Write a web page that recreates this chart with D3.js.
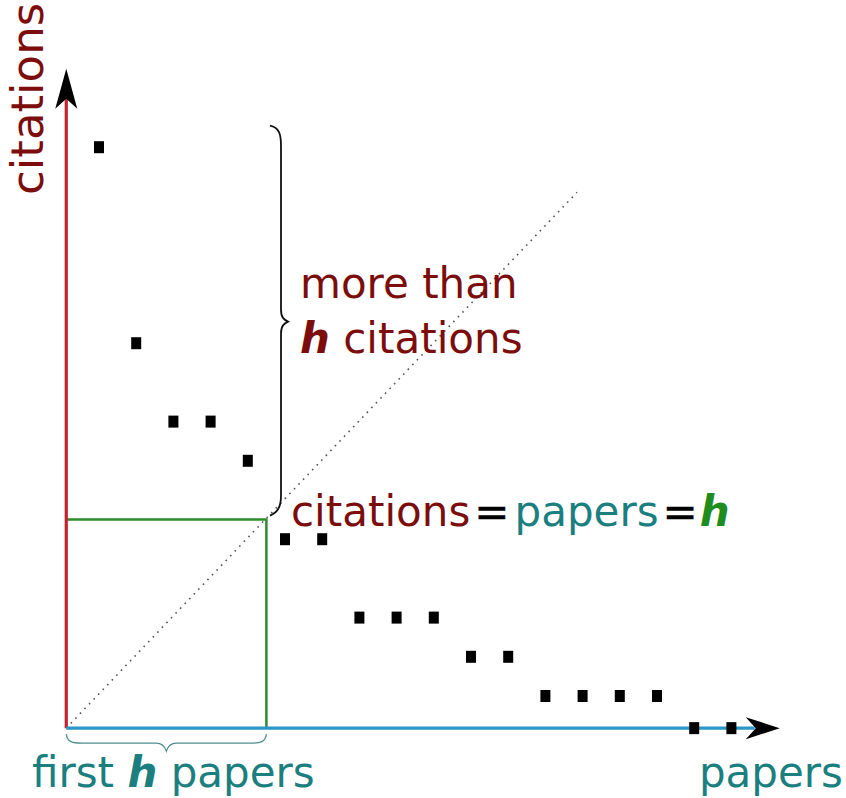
<!DOCTYPE html>
<html><head><meta charset="utf-8">
<script src="https://cdn.jsdelivr.net/npm/d3@7"></script>
<style>
html,body{margin:0;padding:0;background:#fff;}
svg{display:block;font-family:"DejaVu Sans",sans-serif;}
</style></head>
<body>
<svg id="chart" width="846" height="798"></svg>
<script>
// paper ranks (sorted by citations) and citation counts
const papers = [1,2,3,4,5,6,7,8,9,10,11,12,13,14,15,16,17,18];
const citations = [15,10,8,8,7,5,5,3,3,3,2,2,1,1,1,1,0.18,0.18];
const hIndex = 5;
const labels = {
  yAxis: "citations",
  xAxis: "papers",
  more1: "more than",
  more2: " citations",
  eqCit: "citations",
  eqPap: "papers",
  first: "first ",
  firstEnd: " papers",
  h: "h"
};

const svg = d3.select("#chart");
const x = d3.scaleLinear().domain([0, 18]).range([61.8, 731.4]);
const y = d3.scaleLinear().domain([0, 15]).range([735.2, 147.2]);

const C = {red:"#c3232b", blue:"#2b97c9", green:"#2e8b2e", darkred:"#7c0d0d", teal:"#1b7f7f", hgreen:"#1f8c1f"};
const origin = {p: 0.12, c: 0.18};
const ox = x(origin.p), oy = y(origin.c);
const hx = x(hIndex + 0.5), hy = y(hIndex + 0.5);

// dotted diagonal
svg.append("line")
  .attr("x1", ox).attr("y1", oy).attr("x2", x(13.85)).attr("y2", y(13.85))
  .attr("stroke", "#555").attr("stroke-width", 1.6).attr("stroke-dasharray", "1.6,5");

// green h square
svg.append("path")
  .attr("d", `M${ox},${hy} H${hx} V${oy}`)
  .attr("fill", "none").attr("stroke", C.green).attr("stroke-width", 2.5);

// y axis (red)
const yTip = y(17.0);
svg.append("line").attr("x1", ox).attr("y1", oy).attr("x2", ox).attr("y2", yTip + 25)
  .attr("stroke", C.red).attr("stroke-width", 3.2);
svg.append("path")
  .attr("d", `M${ox},${yTip} L${ox + 11},${yTip + 40} L${ox},${yTip + 30} L${ox - 11},${yTip + 40} Z`)
  .attr("fill", "#000");

// x axis (blue)
const xTip = x(19.3);
svg.append("line").attr("x1", ox).attr("y1", oy).attr("x2", xTip - 25).attr("y2", oy)
  .attr("stroke", C.blue).attr("stroke-width", 3.2);
svg.append("path")
  .attr("d", `M${xTip},${oy} L${xTip - 34},${oy - 11} L${xTip - 24},${oy} L${xTip - 34},${oy + 11} Z`)
  .attr("fill", "#000");

// points
svg.append("g").selectAll("rect").data(papers).join("rect")
  .attr("x", d => x(d) - 5).attr("y", (d, i) => y(citations[i]) - 6)
  .attr("width", 10).attr("height", 12).attr("fill", "#000");

// right curly brace (citations > h)
const bx = 281, bTop = y(15.55), bBot = y(5.6), bMid = y(10.55);
svg.append("path")
  .attr("d", `M${bx - 11},${bTop} C${bx - 2},${bTop + 2} ${bx},${bTop + 8} ${bx},${bTop + 20}
              L${bx},${bMid - 12} C${bx},${bMid - 4} ${bx + 3},${bMid - 2} ${bx + 7},${bMid}
              C${bx + 3},${bMid + 2} ${bx},${bMid + 4} ${bx},${bMid + 12}
              L${bx},${bBot - 20} C${bx},${bBot - 8} ${bx - 4},${bBot - 3} ${bx - 11},${bBot}`)
  .attr("fill", "none").attr("stroke", "#111").attr("stroke-width", 1.8);

// bottom brace (first h papers)
const by = oy + 6, bmx = (ox + hx) / 2;
svg.append("path")
  .attr("d", `M${ox},${by} C${ox + 1},${by + 8} ${ox + 6},${by + 9} ${ox + 16},${by + 9}
              L${bmx - 10},${by + 9} C${bmx - 5},${by + 9} ${bmx - 2},${by + 11} ${bmx},${by + 17}
              C${bmx + 2},${by + 11} ${bmx + 5},${by + 9} ${bmx + 10},${by + 9}
              L${hx - 16},${by + 9} C${hx - 6},${by + 9} ${hx - 1},${by + 8} ${hx},${by}`)
  .attr("fill", "none").attr("stroke", "#4f8f8f").attr("stroke-width", 1.3);

const fs = 42;
// y axis label
svg.append("text").attr("transform", `translate(43,195) rotate(-90)`)
  .attr("font-size", 45).attr("fill", C.darkred).attr("text-anchor", "start")
  .text(labels.yAxis);

// more than h citations
svg.append("text").attr("x", 300).attr("y", 298).attr("font-size", fs).attr("fill", C.darkred).text(labels.more1);
const t2 = svg.append("text").attr("x", 300).attr("y", 353).attr("font-size", fs).attr("fill", C.darkred);
t2.append("tspan").attr("font-weight", "bold").attr("font-style", "italic").text(labels.h);
t2.append("tspan").text(labels.more2);

// citations = papers = h
const t3 = svg.append("text").attr("x", 291).attr("y", 526).attr("font-size", fs);
t3.append("tspan").attr("fill", C.darkred).text(labels.eqCit);
t3.append("tspan").attr("fill", "#000").attr("dx", 4).attr("stroke", "#000").attr("stroke-width", 0.4).text("=");
t3.append("tspan").attr("fill", C.teal).attr("dx", 5).attr("stroke", "none").text(labels.eqPap);
t3.append("tspan").attr("fill", "#000").attr("dx", 4).attr("stroke", "#000").attr("stroke-width", 0.4).text("=");
t3.append("tspan").attr("fill", C.hgreen).attr("dx", 2).attr("stroke", "none").attr("font-weight", "bold").attr("font-style", "italic").text(labels.h);

// first h papers
const t4 = svg.append("text").attr("x", 32).attr("y", 787).attr("font-size", fs).attr("fill", C.teal);
t4.append("tspan").text(labels.first);
t4.append("tspan").attr("font-weight", "bold").attr("font-style", "italic").text(labels.h);
t4.append("tspan").text(labels.firstEnd);

// papers axis label
svg.append("text").attr("x", 843).attr("y", 787).attr("font-size", fs).attr("fill", C.teal)
  .attr("text-anchor", "end").text(labels.xAxis);
</script>
</body></html>
